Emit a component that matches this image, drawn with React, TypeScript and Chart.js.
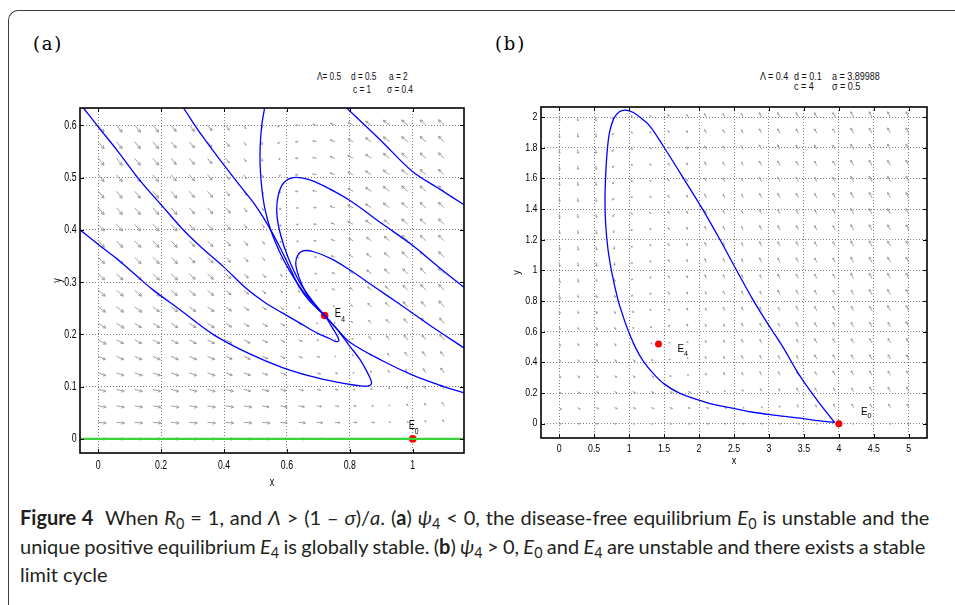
import React, { useEffect, useRef } from "react";
import { Chart, registerables } from "chart.js";

Chart.register(...registerables);

type Pt = [number, number];
interface Eq { name: string; sub: string; x: number; y: number; }

const FONT_SANS = '"Liberation Sans", Arial, Helvetica, sans-serif';

// ================= Panel (a) data =================
const aXTicks = [0, 0.2, 0.4, 0.6, 0.8, 1];
const aYTicks = [0, 0.1, 0.2, 0.3, 0.4, 0.5, 0.6];
const aXRange: Pt = [-0.058, 1.163];
const aYRange: Pt = [-0.027, 0.633];
const aFieldX = [0, 0.0579, 0.1158, 0.1737, 0.2316, 0.2895, 0.3474, 0.4053, 0.4632, 0.5211, 0.5789, 0.6368, 0.6947, 0.7526, 0.8105, 0.8684, 0.9263, 0.9842, 1.0421, 1.1];
const aFieldY = [0, 0.0316, 0.0632, 0.0947, 0.1263, 0.1579, 0.1895, 0.2211, 0.2526, 0.2842, 0.3158, 0.3474, 0.3789, 0.4105, 0.4421, 0.4737, 0.5053, 0.5368, 0.5684, 0.6];
const aFieldAngle = [
  [0, 0, 0, 0, 0, 0, 0, 0, 0, 0, 0, 0, 0, 0, 0, 0, 0, 0, 180, 180],
  [-5, -5, -5, -5, -5, -5, -5, -5, -5, -5, -5, -5, -4, -4, -3, -2, 20, 100, 115, 120],
  [-10, -10, -10, -10, -10, -10, -10, -10, -10, -10, -10, -9, -8, -7, -5, -2, 100, 115, 120, 122],
  [-15, -15, -15, -15, -15, -15, -15, -15, -15, -15, -14, -13, -12, -10, -6, 60, 110, 118, 122, 124],
  [-20, -20, -20, -20, -20, -20, -20, -20, -20, -19, -18, -17, -15, -12, -5, 105, 118, 122, 124, 126],
  [-24, -24, -24, -24, -24, -24, -24, -24, -24, -23, -22, -20, -17, -10, 110, 120, 124, 126, 127, 128],
  [-28, -28, -28, -28, -28, -28, -28, -28, -28, -27, -26, -23, -17, -5, 125, 127, 128, 129, 130, 130],
  [-32, -32, -32, -32, -32, -32, -32, -32, -32, -31, -30, -27, -18, 150, 135, 132, 131, 131, 131, 131],
  [-36, -36, -36, -36, -36, -36, -36, -36, -36, -36, -38, -45, -100, 160, 140, 135, 133, 132, 132, 132],
  [-40, -40, -40, -40, -40, -40, -40, -40, -40, -42, -48, -65, 170, 150, 140, 137, 135, 134, 133, 133],
  [-43, -43, -43, -43, -43, -43, -43, -43, -43, -46, -55, -80, 175, 155, 145, 140, 137, 136, 135, 135],
  [-45, -45, -45, -45, -45, -45, -45, -45, -47, -50, -62, -120, 175, 158, 148, 142, 139, 137, 136, 135],
  [-47, -47, -47, -47, -47, -47, -47, -47, -50, -55, -70, -160, 178, 160, 150, 144, 140, 138, 137, 136],
  [-48, -48, -48, -48, -48, -48, -48, -48, -52, -58, -80, -170, 178, 162, 152, 146, 142, 139, 138, 137],
  [-49, -49, -49, -49, -49, -49, -49, -49, -53, -62, -95, -175, 175, 162, 152, 147, 143, 140, 138, 137],
  [-50, -50, -50, -50, -50, -50, -50, -50, -55, -65, -110, -178, 172, 161, 152, 147, 143, 140, 138, 137],
  [-50, -50, -50, -50, -50, -50, -50, -51, -56, -70, -120, -178, 170, 160, 152, 147, 143, 140, 138, 137],
  [-50, -50, -50, -50, -50, -50, -50, -52, -58, -85, -140, 180, 168, 159, 151, 146, 142, 140, 138, 137],
  [-50, -50, -50, -50, -50, -50, -50, -53, -60, -88, -145, 180, 166, 158, 150, 146, 142, 140, 138, 137],
  [-50, -50, -50, -50, -50, -50, -50, -54, -62, -90, -150, 180, 165, 155, 149, 145, 141, 139, 138, 137],
];
const aFieldMag = [
  "88888888887765432112",
  "88888888887765431123",
  "88888888877654321234",
  "88888888776543212345",
  "88888887766543123456",
  "88888887765431234566",
  "98888887765421245667",
  "99888887665311345677",
  "99988887654212356778",
  "99998887653213456788",
  "99999887653123567788",
  "99999887643124567888",
  "99999887642234567888",
  "99999887542234677888",
  "99999887532235678888",
  "99999886532345678888",
  "99998876532345678888",
  "99998876432345678888",
  "99998876433345678888",
  "99998876433345678888",
];
const aTrajectories: Pt[][] = [
  [[-0.058, 0.4], [0.0, 0.372], [0.06, 0.344], [0.12, 0.313], [0.17, 0.287], [0.26, 0.247], [0.365, 0.2], [0.48, 0.163], [0.588, 0.136], [0.694, 0.117], [0.78, 0.106], [0.84, 0.101], [0.862, 0.102], [0.869, 0.108], [0.86, 0.122], [0.832, 0.152], [0.8, 0.177], [0.768, 0.203], [0.737, 0.225], [0.72, 0.236]],
  [[-0.047, 0.633], [0.0, 0.597], [0.06, 0.552], [0.133, 0.494], [0.2, 0.448], [0.27, 0.4], [0.33, 0.365], [0.397, 0.33], [0.472, 0.287], [0.53, 0.261], [0.588, 0.24], [0.64, 0.222], [0.694, 0.203], [0.735, 0.192], [0.756, 0.186], [0.765, 0.188], [0.76, 0.197], [0.745, 0.212], [0.73, 0.227], [0.72, 0.236]],
  [[0.271, 0.633], [0.33, 0.58], [0.397, 0.526], [0.45, 0.485], [0.503, 0.444], [0.55, 0.398], [0.587, 0.355], [0.615, 0.32], [0.64, 0.29], [0.67, 0.265], [0.695, 0.25], [0.72, 0.236]],
  [[0.529, 0.633], [0.52, 0.6], [0.515, 0.56], [0.515, 0.52], [0.52, 0.48], [0.53, 0.44], [0.548, 0.4], [0.575, 0.36], [0.61, 0.32], [0.65, 0.283], [0.69, 0.255], [0.72, 0.236]],
  [[0.72, 0.236], [0.68, 0.265], [0.64, 0.3], [0.605, 0.345], [0.58, 0.39], [0.568, 0.43], [0.572, 0.465], [0.59, 0.49], [0.62, 0.5], [0.665, 0.497], [0.717, 0.484], [0.8, 0.456], [0.904, 0.411], [1.0, 0.37], [1.08, 0.33], [1.163, 0.29]],
  [[0.72, 0.236], [0.692, 0.253], [0.66, 0.28], [0.638, 0.31], [0.628, 0.335], [0.635, 0.352], [0.655, 0.36], [0.685, 0.358], [0.74, 0.345], [0.798, 0.324], [0.88, 0.29], [0.958, 0.258], [1.06, 0.215], [1.163, 0.174]],
  [[0.72, 0.236], [0.76, 0.21], [0.8, 0.185], [0.905, 0.149], [1.0, 0.122], [1.08, 0.104], [1.163, 0.088]],
  [[0.79, 0.633], [0.9, 0.57], [0.998, 0.512], [1.08, 0.48], [1.163, 0.448]],
];
const aInvariantLine: Pt[] = [[-0.058, 0], [1.163, 0]];
const aEquilibria: Eq[] = [
  { name: "E", sub: "4", x: 0.72, y: 0.236 },
  { name: "E", sub: "0", x: 1, y: 0 },
];
const aParamsLine1 = ["Λ= 0.5", "d = 0.5", "a = 2"];
const aParamsLine2 = ["c = 1", "σ = 0.4"];

// ================= Panel (b) data =================
const bXTicks = [0, 0.5, 1, 1.5, 2, 2.5, 3, 3.5, 4, 4.5, 5];
const bYTicks = [0, 0.2, 0.4, 0.6, 0.8, 1, 1.2, 1.4, 1.6, 1.8, 2];
const bXRange: Pt = [-0.26, 5.26];
const bYRange: Pt = [-0.093, 2.066];
const bFieldX = [0, 0.2632, 0.5263, 0.7895, 1.0526, 1.3158, 1.5789, 1.8421, 2.1053, 2.3684, 2.6316, 2.8947, 3.1579, 3.4211, 3.6842, 3.9474, 4.2105, 4.4737, 4.7368, 5];
const bFieldY = [0, 0.1053, 0.2105, 0.3158, 0.4211, 0.5263, 0.6316, 0.7368, 0.8421, 0.9474, 1.0526, 1.1579, 1.2632, 1.3684, 1.4737, 1.5789, 1.6842, 1.7895, 1.8947, 2];
const bFieldAngle = [
  [0, 0, 0, 0, 0, 0, 0, 0, 0, 0, 0, 0, 0, 0, 0, 0, 180, 180, 180, 180],
  [-40, -30, -20, -20, -20, -20, -20, -20, -18, -15, -10, 60, 110, 112, 114, 115, 116, 117, 118, 118],
  [-50, -40, -30, -30, -30, -30, -30, -25, -15, 100, 112, 114, 115, 116, 117, 117, 118, 118, 118, 118],
  [-60, -55, -45, -45, -45, -40, -35, 90, 110, 113, 114, 115, 116, 116, 117, 117, 118, 118, 118, 118],
  [-65, -60, -55, -52, -50, -50, -60, 105, 112, 113, 114, 115, 116, 116, 117, 117, 118, 118, 118, 118],
  [-70, -65, -62, -60, -60, -70, 120, 110, 112, 113, 114, 115, 116, 116, 117, 117, 118, 118, 118, 118],
  [-72, -68, -65, -65, -70, -140, 115, 112, 112, 113, 114, 115, 116, 116, 117, 117, 118, 118, 118, 118],
  [-75, -72, -70, -70, -80, 130, 115, 112, 112, 113, 114, 115, 116, 116, 117, 117, 118, 118, 118, 118],
  [-77, -75, -73, -75, -120, 125, 115, 112, 112, 113, 114, 115, 116, 116, 117, 117, 118, 118, 118, 118],
  [-78, -76, -75, -80, -130, 125, 116, 113, 112, 113, 114, 115, 116, 116, 117, 117, 118, 118, 118, 118],
  [-80, -78, -77, -85, -140, 130, 117, 114, 113, 113, 114, 115, 116, 116, 117, 117, 118, 118, 118, 118],
  [-80, -79, -78, -95, -160, 130, 118, 115, 114, 114, 114, 115, 116, 116, 117, 117, 118, 118, 118, 118],
  [-81, -80, -80, -110, 180, 130, 119, 116, 115, 115, 115, 115, 116, 116, 117, 117, 118, 118, 118, 118],
  [-82, -81, -81, -120, 160, 130, 120, 117, 116, 116, 116, 116, 116, 116, 117, 117, 118, 118, 118, 118],
  [-82, -82, -82, -130, 150, 128, 120, 118, 117, 117, 117, 117, 117, 117, 117, 117, 118, 118, 118, 118],
  [-83, -83, -84, -135, 148, 128, 121, 118, 117, 117, 117, 117, 117, 117, 117, 117, 118, 118, 118, 118],
  [-83, -83, -86, -140, 146, 128, 121, 119, 118, 118, 118, 118, 118, 118, 118, 118, 118, 118, 118, 118],
  [-84, -84, -88, -145, 144, 128, 122, 119, 118, 118, 118, 118, 118, 118, 118, 118, 118, 118, 118, 118],
  [-84, -84, -90, -148, 142, 128, 122, 120, 119, 118, 118, 118, 118, 118, 118, 118, 118, 118, 118, 118],
  [-85, -85, -92, -150, 140, 128, 122, 120, 119, 118, 118, 118, 118, 118, 118, 118, 118, 118, 118, 118],
];
const bFieldMag = [
  "22222222211111101111",
  "33333332221123344444",
  "33333333212334444555",
  "33333321233444455555",
  "33333212334444555555",
  "33332112334444555555",
  "33332123334445555556",
  "33332223344445555566",
  "43332233344455555666",
  "44332233444455556666",
  "44432233444555556666",
  "44432233444555556666",
  "44432233444555556666",
  "44432233444555556666",
  "44432233444555556666",
  "44432233444555556666",
  "44432233444555556666",
  "44432233444555556666",
  "44432233444555556666",
  "44432233444555556666",
];
const bLimitCycle: Pt[] = [
  [3.94, 0.008], [3.7, 0.02], [3.49, 0.034], [3.1, 0.055], [2.77, 0.075], [2.4, 0.108], [2.1, 0.14], [1.72, 0.2], [1.5, 0.26], [1.34, 0.33], [1.2, 0.41], [1.11, 0.48], [1.02, 0.57], [0.96, 0.64], [0.9, 0.72], [0.84, 0.81], [0.76, 0.97], [0.7, 1.13], [0.665, 1.3], [0.655, 1.46], [0.665, 1.62], [0.685, 1.77], [0.72, 1.9], [0.78, 1.99], [0.86, 2.035], [0.95, 2.046], [1.06, 2.03], [1.18, 1.99], [1.3, 1.94], [1.49, 1.81], [1.82, 1.57], [2.05, 1.4], [2.3, 1.2], [2.55, 0.99], [2.77, 0.81], [3.0, 0.64], [3.2, 0.5], [3.39, 0.35], [3.55, 0.24], [3.72, 0.135], [3.85, 0.06], [3.94, 0.008],
];
const bEquilibria: Eq[] = [
  { name: "E", sub: "4", x: 1.42, y: 0.52 },
  { name: "E", sub: "0", x: 4, y: 0 },
];
const bParamsLine1 = ["Λ = 0.4", "d = 0.1", "a = 3.89988"];
const bParamsLine2 = ["c = 4", "σ = 0.5"];

// ================= drawing helpers =================
interface TextStyle { size: number; sx: number; }
interface PanelSpec {
  left: number; top: number; width: number; height: number;
  padTop: number; padRight: number; yAxisWidth: number; xAxisHeight: number;
  tick: TextStyle; xLabelDy: number; yLabelGap: number;
  title: TextStyle; xTitleDy: number; yTitleDx: number;
  xRange: Pt; yRange: Pt; xTicks: number[]; yTicks: number[];
  fieldX: number[]; fieldY: number[]; fieldAngle: number[][]; fieldMag: string[]; magScale: number;
  trajectories: Pt[][]; invariant?: Pt[]; equilibria: Eq[];
  eqLabelOffsets: { dx: number; dy: number; sdx: number; sdy: number }[];
  eqLabel: TextStyle; eqSub: TextStyle; dotRadius: number; trajTension: number;
}

function scaledText(ctx: CanvasRenderingContext2D, text: string, x: number, y: number, st: TextStyle, align: CanvasTextAlign, baseline: CanvasTextBaseline, rot = 0) {
  ctx.save();
  ctx.translate(x, y);
  if (rot) ctx.rotate(rot);
  ctx.scale(st.sx, 1);
  ctx.font = `${st.size}px ${FONT_SANS}`;
  ctx.textAlign = align;
  ctx.textBaseline = baseline;
  ctx.fillText(text, 0, 0);
  ctx.restore();
}

function fieldPlugin(p: PanelSpec) {
  return {
    id: "vectorField",
    beforeDatasetsDraw(chart: any) {
      const { ctx, chartArea, scales } = chart;
      const xs = scales.x, ys = scales.y;
      ctx.save();
      ctx.beginPath();
      ctx.rect(chartArea.left, chartArea.top, chartArea.right - chartArea.left, chartArea.bottom - chartArea.top);
      ctx.clip();
      ctx.strokeStyle = "#a0a0a0";
      ctx.lineWidth = 1;
      for (let j = 0; j < p.fieldY.length; j++) {
        for (let i = 0; i < p.fieldX.length; i++) {
          const L = Number(p.fieldMag[j][i]) * p.magScale;
          if (L <= 0) continue;
          const a = (p.fieldAngle[j][i] * Math.PI) / 180;
          const x0 = xs.getPixelForValue(p.fieldX[i]);
          const y0 = ys.getPixelForValue(p.fieldY[j]);
          const x1 = x0 + L * Math.cos(a);
          const y1 = y0 - L * Math.sin(a);
          const h = Math.max(1.5, L * 0.38);
          const ha = (28 * Math.PI) / 180;
          ctx.beginPath();
          ctx.moveTo(x0, y0);
          ctx.lineTo(x1, y1);
          ctx.moveTo(x1 - h * Math.cos(a - ha), y1 + h * Math.sin(a - ha));
          ctx.lineTo(x1, y1);
          ctx.lineTo(x1 - h * Math.cos(a + ha), y1 + h * Math.sin(a + ha));
          ctx.stroke();
        }
      }
      ctx.restore();
    },
  };
}

function framePlugin(p: PanelSpec) {
  return {
    id: "matlabFrame",
    afterDatasetsDraw(chart: any) {
      const { ctx, chartArea, scales } = chart;
      const { left, right, top, bottom } = chartArea;
      ctx.save();
      ctx.strokeStyle = "#000";
      ctx.lineWidth = 1;
      const tl = 4;
      ctx.beginPath();
      p.xTicks.forEach((v) => {
        const x = Math.round(scales.x.getPixelForValue(v)) + 0.5;
        ctx.moveTo(x, bottom); ctx.lineTo(x, bottom - tl);
        ctx.moveTo(x, top); ctx.lineTo(x, top + tl);
      });
      p.yTicks.forEach((v) => {
        const y = Math.round(scales.y.getPixelForValue(v)) + 0.5;
        ctx.moveTo(left, y); ctx.lineTo(left + tl, y);
        ctx.moveTo(right, y); ctx.lineTo(right - tl, y);
      });
      ctx.stroke();
      ctx.lineWidth = 1.6;
      ctx.strokeRect(left, top, right - left, bottom - top);
      ctx.fillStyle = "#000";
      p.xTicks.forEach((v) => scaledText(ctx, String(v), scales.x.getPixelForValue(v), bottom + p.xLabelDy, p.tick, "center", "middle"));
      p.yTicks.forEach((v) => scaledText(ctx, String(v), left - p.yLabelGap, scales.y.getPixelForValue(v), p.tick, "right", "middle"));
      scaledText(ctx, "x", (left + right) / 2, bottom + p.xTitleDy, p.title, "center", "middle");
      scaledText(ctx, "y", left - p.yTitleDx, (top + bottom) / 2, p.title, "center", "middle", -Math.PI / 2);
      p.equilibria.forEach((e, k) => {
        const o = p.eqLabelOffsets[k];
        const px = scales.x.getPixelForValue(e.x);
        const py = scales.y.getPixelForValue(e.y);
        scaledText(ctx, e.name, px + o.dx, py + o.dy, p.eqLabel, "left", "alphabetic");
        scaledText(ctx, e.sub, px + o.sdx, py + o.sdy, p.eqSub, "left", "alphabetic");
      });
      ctx.restore();
    },
  };
}

function buildChart(canvas: HTMLCanvasElement, p: PanelSpec): Chart {
  const datasets: any[] = [];
  if (p.invariant) {
    datasets.push({
      data: p.invariant.map(([x, y]) => ({ x, y })),
      showLine: true, borderColor: "#3ad43a", borderWidth: 2.2, pointRadius: 0, tension: 0,
    });
  }
  p.trajectories.forEach((t) => {
    datasets.push({
      data: t.map(([x, y]) => ({ x, y })),
      showLine: true, borderColor: "#0000ff", borderWidth: 1.3, pointRadius: 0, tension: p.trajTension,
    });
  });
  datasets.push({
    data: p.equilibria.map((e) => ({ x: e.x, y: e.y })),
    showLine: false, pointRadius: p.dotRadius, pointBackgroundColor: "#ff0000", pointBorderColor: "#ff0000", pointBorderWidth: 0,
  });
  const gridCommon = { color: "#808080", lineWidth: 1, drawTicks: false };
  return new Chart(canvas, {
    type: "scatter",
    data: { datasets },
    options: {
      animation: false,
      responsive: false,
      maintainAspectRatio: false,
      devicePixelRatio: 1,
      events: [],
      layout: { padding: { left: 0, top: p.padTop, right: p.padRight, bottom: 0 } },
      plugins: { legend: { display: false }, tooltip: { enabled: false }, title: { display: false } },
      scales: {
        x: {
          type: "linear", min: p.xRange[0], max: p.xRange[1],
          afterBuildTicks: (s: any) => { s.ticks = p.xTicks.map((v) => ({ value: v })); },
          afterFit: (s: any) => { s.height = p.xAxisHeight; },
          grid: gridCommon,
          border: { display: false, dash: [1, 2] },
          ticks: { display: false },
        },
        y: {
          type: "linear", min: p.yRange[0], max: p.yRange[1],
          afterBuildTicks: (s: any) => { s.ticks = p.yTicks.map((v) => ({ value: v })); },
          afterFit: (s: any) => { s.width = p.yAxisWidth; },
          grid: gridCommon,
          border: { display: false, dash: [1, 2] },
          ticks: { display: false },
        },
      },
    } as any,
    plugins: [fieldPlugin(p), framePlugin(p)],
  });
}

const panelA: PanelSpec = {
  left: 30, top: 60, width: 460, height: 440,
  padTop: 48, padRight: 26, yAxisWidth: 50, xAxisHeight: 47,
  tick: { size: 12.5, sx: 0.7 }, xLabelDy: 13, yLabelGap: 3.5,
  title: { size: 12, sx: 0.75 }, xTitleDy: 30, yTitleDx: 22.5,
  xRange: aXRange, yRange: aYRange, xTicks: aXTicks, yTicks: aYTicks,
  fieldX: aFieldX, fieldY: aFieldY, fieldAngle: aFieldAngle, fieldMag: aFieldMag, magScale: 1,
  trajectories: aTrajectories, invariant: aInvariantLine, equilibria: aEquilibria,
  eqLabelOffsets: [{ dx: 10, dy: 1, sdx: 16.5, sdy: 6 }, { dx: -4, dy: -10, sdx: 2, sdy: -5 }],
  eqLabel: { size: 13, sx: 0.72 }, eqSub: { size: 9, sx: 0.75 }, dotRadius: 3.8, trajTension: 0.35,
};

const panelB: PanelSpec = {
  left: 500, top: 60, width: 450, height: 420,
  padTop: 47, padRight: 23, yAxisWidth: 41, xAxisHeight: 42,
  tick: { size: 10, sx: 0.88 }, xLabelDy: 11, yLabelGap: 3.5,
  title: { size: 10, sx: 0.9 }, xTitleDy: 23, yTitleDx: 24,
  xRange: bXRange, yRange: bYRange, xTicks: bXTicks, yTicks: bYTicks,
  fieldX: bFieldX, fieldY: bFieldY, fieldAngle: bFieldAngle, fieldMag: bFieldMag, magScale: 1,
  trajectories: [bLimitCycle], equilibria: bEquilibria,
  eqLabelOffsets: [{ dx: 19, dy: 8, sdx: 25.5, sdy: 11.5 }, { dx: 22, dy: -9, sdx: 28.5, sdy: -5.5 }],
  eqLabel: { size: 11, sx: 0.9 }, eqSub: { size: 8, sx: 0.9 }, dotRadius: 3.5, trajTension: 0.35,
};

function Panel({ spec }: { spec: PanelSpec }) {
  const ref = useRef<HTMLCanvasElement | null>(null);
  useEffect(() => {
    if (!ref.current) return;
    const chart = buildChart(ref.current, spec);
    return () => chart.destroy();
  }, [spec]);
  return (
    <canvas
      ref={ref}
      width={spec.width}
      height={spec.height}
      style={{ position: "absolute", left: spec.left, top: spec.top, width: spec.width, height: spec.height }}
    />
  );
}

const sub: React.CSSProperties = { fontSize: "0.72em", verticalAlign: "-0.28em", lineHeight: 0, fontStyle: "normal" };

function Param({ text, left, top, size, sx }: { text: string; left: number; top: number; size: number; sx: number }) {
  return (
    <span
      style={{
        position: "absolute", left, top, fontFamily: FONT_SANS, fontSize: size, lineHeight: `${size}px`,
        whiteSpace: "pre", color: "#111", transform: `scaleX(${sx})`, transformOrigin: "0 0",
      }}
    >
      {text}
    </span>
  );
}

export default function App() {
  return (
    <div style={{ position: "absolute", left: 0, top: 0, width: 955, height: 605, overflow: "hidden", background: "#fff" }}>
      <div style={{ position: "absolute", left: 8, top: 10, width: 1200, height: 1200, borderTop: "1px solid #3c3c3c", borderLeft: "1px solid #3c3c3c", borderTopLeftRadius: 10 }} />
      <div style={{ position: "absolute", left: 33, top: 33, fontFamily: '"DejaVu Serif", serif', fontSize: 18, lineHeight: "22px", letterSpacing: 1.8 }}>(a)</div>
      <div style={{ position: "absolute", left: 495, top: 33, fontFamily: '"DejaVu Serif", serif', fontSize: 18, lineHeight: "22px", letterSpacing: 1.8 }}>(b)</div>

      <Param text={aParamsLine1[0]} left={317} top={71} size={11} sx={0.75} />
      <Param text={aParamsLine1[1]} left={351} top={71} size={11} sx={0.75} />
      <Param text={aParamsLine1[2]} left={389} top={71} size={11} sx={0.75} />
      <Param text={aParamsLine2[0]} left={353} top={84} size={11} sx={0.75} />
      <Param text={aParamsLine2[1]} left={387} top={84} size={11} sx={0.75} />

      <Param text={bParamsLine1[0]} left={760} top={71.5} size={10} sx={0.9} />
      <Param text={bParamsLine1[1]} left={794} top={71.5} size={10} sx={0.9} />
      <Param text={bParamsLine1[2]} left={831.5} top={71.5} size={10} sx={0.9} />
      <Param text={bParamsLine2[0]} left={794} top={82} size={10} sx={0.9} />
      <Param text={bParamsLine2[1]} left={831.5} top={82} size={10} sx={0.9} />

      <Panel spec={panelA} />
      <Panel spec={panelB} />

      <div style={{ position: "absolute", left: 20, top: 503, fontFamily: "Lato, 'Open Sans', sans-serif", fontSize: 20, lineHeight: "28.5px", whiteSpace: "nowrap", color: "#231f20" }}>
        <span style={{ wordSpacing: 0.8 }}><b>Figure 4</b>{"\u00a0 "}When <i>R</i><span style={sub}>0</span> = 1, and <i>Λ</i> &gt; (1 – <i>σ</i>)/<i>a</i>. (<b>a</b>) <i>ψ</i><span style={sub}>4</span> &lt; 0, the disease-free equilibrium <i>E</i><span style={sub}>0</span> is unstable and the</span>
        <br />
        <span style={{ wordSpacing: -0.8 }}>unique positive equilibrium <i>E</i><span style={sub}>4</span> is globally stable. (<b>b</b>) <i>ψ</i><span style={sub}>4</span> &gt; 0, <i>E</i><span style={sub}>0</span> and <i>E</i><span style={sub}>4</span> are unstable and there exists a stable</span>
        <br />
        <span>limit cycle</span>
      </div>
    </div>
  );
}
